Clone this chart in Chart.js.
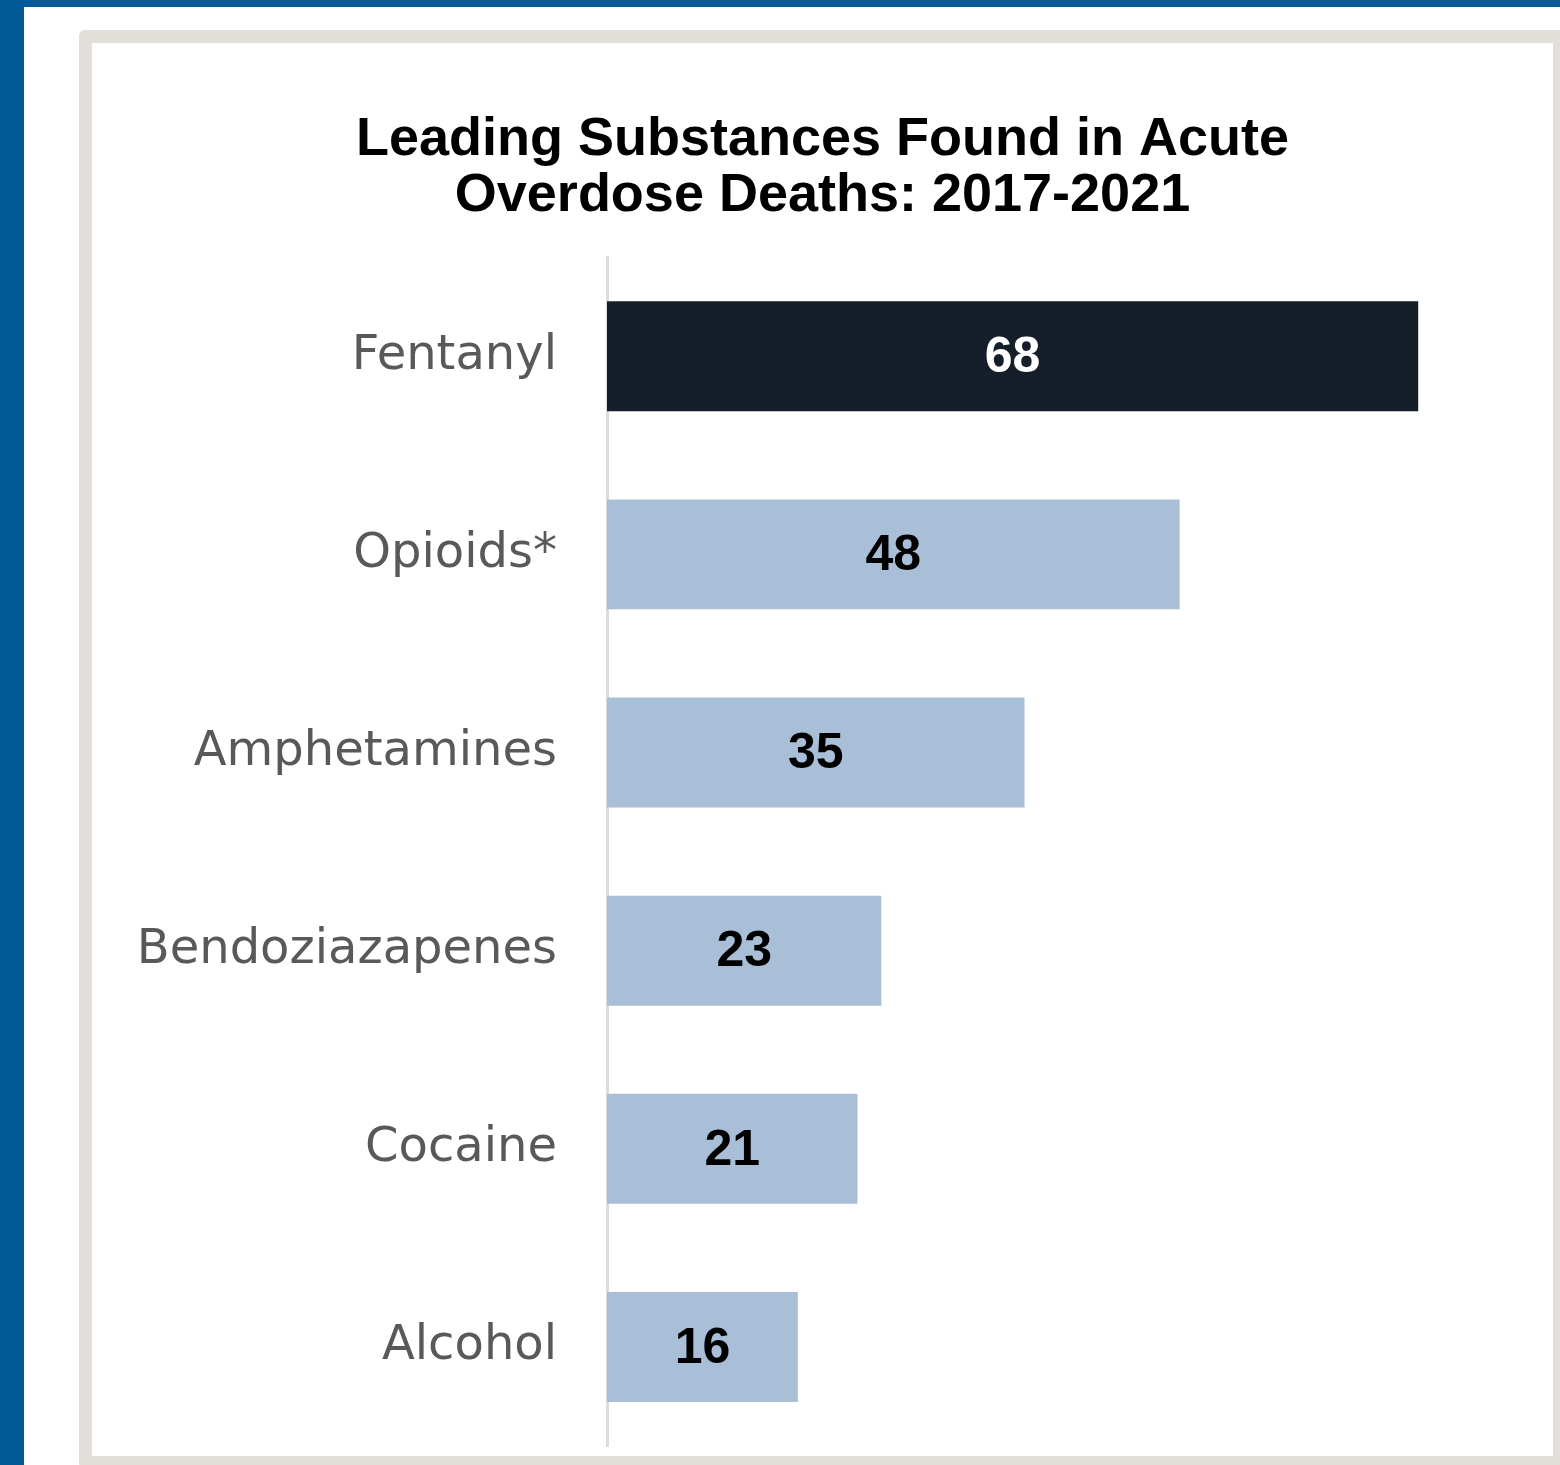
<!DOCTYPE html>
<html>
<head>
<meta charset="utf-8">
<script src="https://cdn.jsdelivr.net/npm/chart.js@4/dist/chart.umd.min.js"></script>
<style>
	html, body {
		margin: 0;
		padding: 0;
		background: #ffffff;
		width: 1560px;
		height: 1465px;
		overflow: hidden;
	}
	.page-edge {
		position: absolute;
		left: 0;
		top: 0;
		width: 1560px;
		height: 1465px;
		box-sizing: border-box;
		border-top: 7px solid #045a96;
		border-left: 24px solid #045a96;
	}
	.frame {
		position: absolute;
		left: 79px;
		top: 30px;
		width: 1487px;
		height: 1439px;
		box-sizing: border-box;
		border: 13px solid #e2dfdb;
		border-radius: 6px;
		background: #ffffff;
	}
	#substanceChart {
		position: absolute;
		left: 92px;
		top: 42px;
	}
</style>
</head>
<body>
<div class="page-edge"></div>
<div class="frame"></div>
<canvas id="substanceChart" width="1461" height="1414"></canvas>

<script>
const substances = ['Fentanyl', 'Opioids*', 'Amphetamines', 'Bendoziazapenes', 'Cocaine', 'Alcohol'];
const percentFound = [68, 48, 35, 23, 21, 16];
const barColors = ['#151e29', '#a9bfd7', '#a9bfd7', '#a9bfd7', '#a9bfd7', '#a9bfd7'];
const valueColors = ['#ffffff', '#000000', '#000000', '#000000', '#000000', '#000000'];
const titleLines = ['Leading Substances Found in Acute', 'Overdose Deaths: 2017-2021'];

// Writes each value in the middle of its bar
const barValues = {
	id: 'barValues',
	afterDatasetsDraw(chart) {
		const { ctx } = chart;
		const meta = chart.getDatasetMeta(0);
		ctx.save();
		ctx.font = 'bold 50px "Liberation Sans", Arial, sans-serif';
		ctx.textAlign = 'center';
		ctx.textBaseline = 'middle';
		meta.data.forEach((bar, i) => {
			const { x, y, base } = bar.getProps(['x', 'y', 'base'], true);
			ctx.fillStyle = valueColors[i];
			ctx.fillText(String(percentFound[i]), (x + base) / 2, y + 2);
		});
		ctx.restore();
	}
};

new Chart(document.getElementById('substanceChart'), {
	type: 'bar',
	data: {
		labels: substances,
		datasets: [{
			data: percentFound,
			backgroundColor: barColors,
			borderWidth: 0,
			categoryPercentage: 1,
			barPercentage: 0.555,
		}]
	},
	options: {
		indexAxis: 'y',
		responsive: false,
		animation: false,
		layout: {
			padding: { top: 0, right: 0, bottom: 10, left: 0 }
		},
		scales: {
			x: {
				display: false,
				min: 0,
				max: 79.3,
			},
			y: {
				grid: { display: false, drawTicks: false },
				border: { display: true, color: '#dcdcdc', width: 3 },
				ticks: {
					color: '#595959',
					padding: 50,
					font: { family: '"DejaVu Sans", sans-serif', size: 48 },
				},
				afterFit(scale) {
					// fixed label column; the tick padding should not eat into the plot height
					scale.width = 515;
					scale.paddingTop = 0;
					scale.paddingBottom = 0;
				}
			}
		},
		plugins: {
			legend: { display: false },
			tooltip: { enabled: false },
			title: {
				display: true,
				text: titleLines,
				color: '#000000',
				font: { family: '"Liberation Sans", Arial, sans-serif', size: 54, weight: 'bold', lineHeight: 1.02 },
				padding: { top: 71, bottom: 34 },
			}
		}
	},
	plugins: [barValues]
});
</script>
</body>
</html>
